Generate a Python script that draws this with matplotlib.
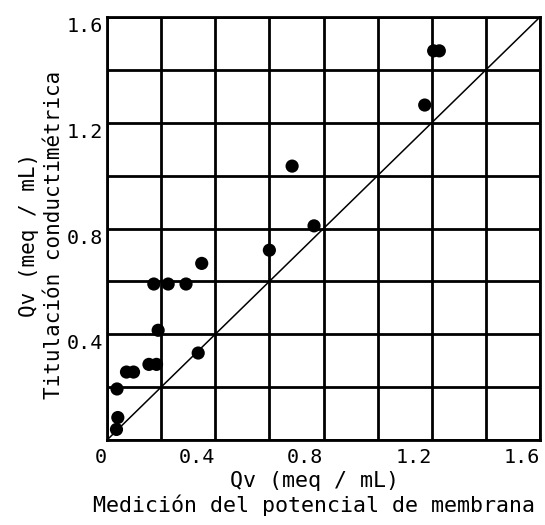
import matplotlib
matplotlib.use("Agg")
import matplotlib.pyplot as plt
import numpy as np

# Data
x_membrana = [1.207, 1.228, 1.174, 0.684, 0.765, 0.600, 0.350, 0.292, 0.226, 0.173,
              0.189, 0.337, 0.155, 0.183, 0.072, 0.098, 0.037, 0.040, 0.035]
y_conducti = [1.472, 1.472, 1.267, 1.036, 0.810, 0.718, 0.668, 0.590, 0.590, 0.590,
              0.415, 0.329, 0.286, 0.286, 0.257, 0.257, 0.193, 0.085, 0.040]
identity = [0.0, 1.6]
x_ticks = [0, 0.4, 0.8, 1.2, 1.6]
x_tick_labels = ["0", "0.4", "0.8", "1.2", "1.6"]
y_ticks = [0.4, 0.8, 1.2, 1.6]
y_tick_labels = ["0.4", "0.8", "1.2", "1.6"]
grid_ticks = [0, 0.2, 0.4, 0.6, 0.8, 1.0, 1.2, 1.4, 1.6]

plt.rcParams['font.family'] = ['DejaVu Sans Mono', 'DejaVu Sans']

fig = plt.figure(figsize=(5.45, 5.25), dpi=100)
ax = fig.add_axes([107/545, 1 - 440/525, 433/545, 423/525])

ax.set_xlim(0, 1.6)
ax.set_ylim(0, 1.6)

for g in grid_ticks:
    ax.axvline(g, color='black', lw=2.0, zorder=1)
    ax.axhline(g, color='black', lw=2.0, zorder=1)

ax.plot(identity, identity, color='black', lw=1.1, zorder=2)
ax.scatter(x_membrana, y_conducti, s=90, color='black', edgecolors='none', zorder=3)

for sp in ax.spines.values():
    sp.set_linewidth(2.0)
    sp.set_color('black')

ax.set_xticks(x_ticks)
ax.set_xticklabels(x_tick_labels, ha='right', fontsize=14.5)
ax.set_yticks(y_ticks)
ax.set_yticklabels(y_tick_labels, va='top', fontsize=14.5)
ax.tick_params(axis='both', length=0)
ax.tick_params(axis='x', pad=6)
ax.tick_params(axis='y', pad=3)

ax.set_xlabel("Qv (meq / mL)\nMedición del potencial de membrana", fontsize=15.6,
              linespacing=1.22)
ax.xaxis.set_label_coords((314 - 107) / 433, (440 - 471) / 423)
ax.set_ylabel("Qv (meq / mL)\nTitulación conductimétrica", fontsize=15,
              linespacing=1.3)
ax.yaxis.set_label_coords((64 - 107) / 433, (440 - 235) / 423)

fig.savefig("out.png", dpi=100)
